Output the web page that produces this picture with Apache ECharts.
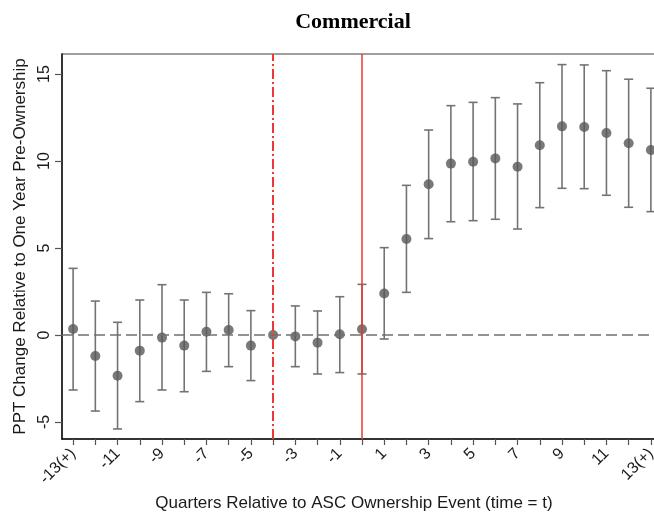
<!DOCTYPE html>
<html>
<head>
<meta charset="utf-8">
<script src="https://cdn.jsdelivr.net/npm/echarts@6/dist/echarts.min.js"></script>
<style>
  html, body { margin: 0; padding: 0; background: #fff; }
  #chart { width: 654px; height: 516px; }
</style>
</head>
<body>
<div id="chart"></div>
<script>
// Event-study estimates: quarters relative to the ownership event
const quarters = [-13,-12,-11,-10,-9,-8,-7,-6,-5,-4,-3,-2,-1,0,1,2,3,4,5,6,7,8,9,10,11,12,13];
const estimates = [0.34,-1.21,-2.34,-0.90,-0.15,-0.61,0.19,0.29,-0.61,0.00,-0.08,-0.44,0.04,0.33,2.39,5.52,8.66,9.85,9.96,10.15,9.67,10.90,11.99,11.95,11.61,11.02,10.63];
const upperCI = [3.83,1.95,0.73,2.01,2.89,2.01,2.45,2.37,1.40,null,1.67,1.38,2.20,2.91,5.02,8.60,11.78,13.18,13.37,13.64,13.28,14.50,15.54,15.52,15.19,14.70,14.18];
const lowerCI = [-3.16,-4.37,-5.40,-3.83,-3.16,-3.26,-2.09,-1.82,-2.62,null,-1.82,-2.24,-2.16,-2.24,-0.23,2.45,5.54,6.51,6.57,6.65,6.09,7.32,8.43,8.41,8.03,7.34,7.09];

// Tick labels
const xLabelValues = [-13,-11,-9,-7,-5,-3,-1,1,3,5,7,9,11,13];
const xLabelTexts = ['-13(+)','-11','-9','-7','-5','-3','-1','1','3','5','7','9','11','13(+)'];
const yTickValues = [-5,0,5,10,15];

// Reference lines
const baseQuarter = -4;
const eventQuarter = 0;

const font = 'Liberation Sans, Arial, Helvetica, sans-serif';
const chart = echarts.init(document.getElementById('chart'));

const pointData = quarters.map((q, i) => [q, estimates[i]]);
const ciData = quarters
  .map((q, i) => [q, lowerCI[i], upperCI[i]])
  .filter(d => d[1] != null && d[2] != null);

chart.setOption({
  animation: false,
  backgroundColor: '#fff',
  graphic: [{
    type: 'text',
    style: {
      text: 'Commercial',
      x: 353, y: 22,
      textAlign: 'center', textVerticalAlign: 'middle',
      font: 'bold 22px Liberation Serif, Times New Roman, serif', fill: '#000'
    }
  }, {
    type: 'text',
    style: {
      text: 'Quarters Relative to ASC Ownership Event (time = t)',
      x: 354, y: 503,
      textAlign: 'center', textVerticalAlign: 'middle',
      font: '17px ' + font, fill: '#1a1a1a'
    }
  }],
  grid: {
    left: 62, top: 54, width: 600, height: 385,
    outerBoundsMode: 'none',
    containLabel: false,
    show: true, borderColor: '#808080', borderWidth: 1.5, backgroundColor: 'transparent'
  },
  xAxis: {
    type: 'value',
    min: -13.5, max: 13.5,
    axisLine: { show: true, onZero: false, lineStyle: { color: '#111', width: 1.5 } },
    axisTick: { show: true, length: 6, customValues: quarters, lineStyle: { color: '#555', width: 1.2 } },
    axisLabel: {
      customValues: xLabelValues,
      rotate: 45, margin: 12,
      fontFamily: font, fontSize: 16, color: '#1a1a1a',
      formatter: v => { const i = xLabelValues.indexOf(v); return i >= 0 ? xLabelTexts[i] : ''; }
    },
    splitLine: { show: false }
  },
  yAxis: {
    type: 'value',
    min: -5.977, max: 16.149,
    name: 'PPT Change Relative to One Year Pre-Ownership',
    nameLocation: 'middle', nameRotate: 90, nameGap: 33,
    nameTextStyle: { fontFamily: font, fontSize: 17, color: '#1a1a1a' },
    axisLine: { show: true, onZero: false, lineStyle: { color: '#111', width: 1.5 } },
    axisTick: { show: true, length: 7, customValues: yTickValues, lineStyle: { color: '#555', width: 1.2 } },
    axisLabel: {
      customValues: yTickValues,
      rotate: 90, margin: 9,
      fontFamily: font, fontSize: 16, color: '#1a1a1a'
    },
    splitLine: { show: false }
  },
  series: [
    {
      // reference lines: zero, base quarter, event quarter
      type: 'scatter',
      data: [],
      z: 1,
      silent: true,
      markLine: {
        silent: true,
        symbol: ['none', 'none'],
        label: { show: false },
        animation: false,
        data: [
          { yAxis: 0, lineStyle: { color: '#707070', width: 1.5, type: [11, 5] } },
          { xAxis: baseQuarter, lineStyle: { color: '#f03535', width: 2, type: [10, 3, 2, 3] } },
          { xAxis: eventQuarter, lineStyle: { color: '#f03535', width: 1.5, type: 'solid' } }
        ]
      }
    },
    {
      // confidence intervals
      type: 'custom',
      z: 2,
      data: ciData,
      renderItem: (params, api) => {
        const lo = api.coord([api.value(0), api.value(1)]);
        const hi = api.coord([api.value(0), api.value(2)]);
        const half = 4.5;
        const style = { stroke: '#737373', lineWidth: 1.6 };
        return {
          type: 'group',
          children: [
            { type: 'line', shape: { x1: lo[0], y1: lo[1], x2: hi[0], y2: hi[1] }, style },
            { type: 'line', shape: { x1: lo[0] - half, y1: lo[1], x2: lo[0] + half, y2: lo[1] }, style },
            { type: 'line', shape: { x1: hi[0] - half, y1: hi[1], x2: hi[0] + half, y2: hi[1] }, style }
          ]
        };
      }
    },
    {
      // point estimates
      type: 'scatter',
      z: 3,
      data: pointData,
      symbol: 'circle',
      symbolSize: 10,
      itemStyle: { color: '#575757' }
    }
  ]
});
</script>
</body>
</html>
